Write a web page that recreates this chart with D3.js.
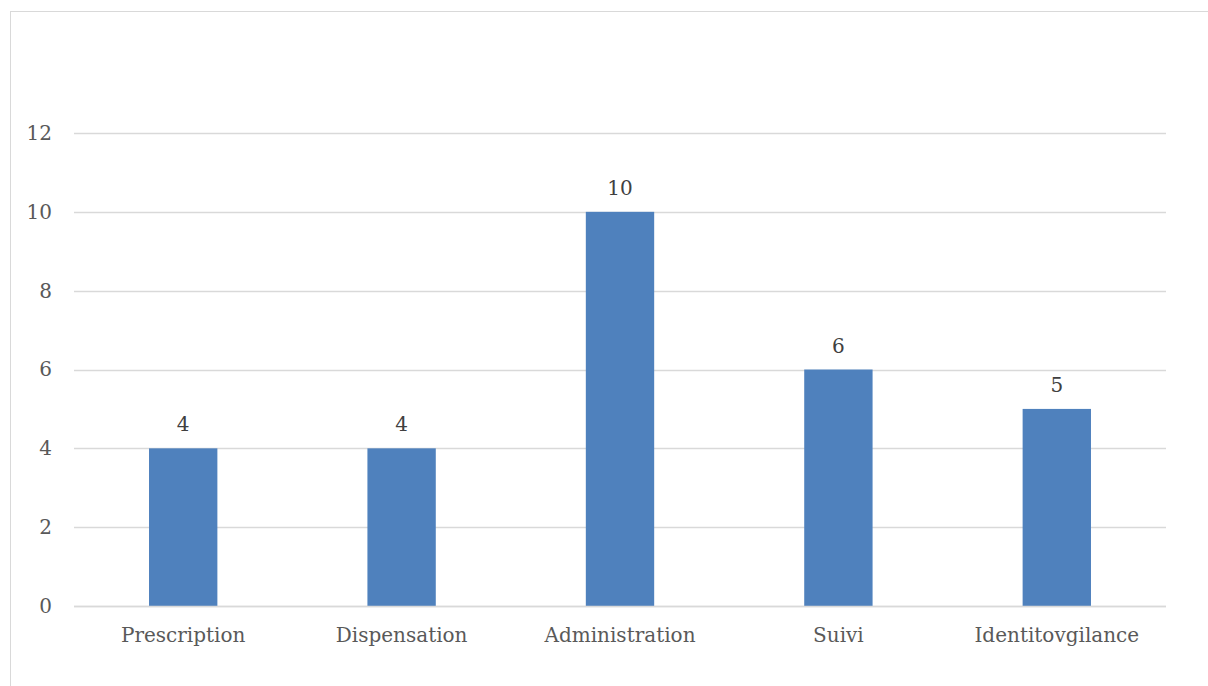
<!DOCTYPE html>
<html><head><meta charset="utf-8">
<script src="https://cdn.jsdelivr.net/npm/d3@7"></script>
<style>body{margin:0;background:#fff}svg{display:block}</style>
</head><body>
<svg id="c" width="1208" height="686"></svg>
<script>
const categories = ["Prescription","Dispensation","Administration","Suivi","Identitovgilance"];
const values = [4,4,10,6,5];
const yTicks = [0,2,4,6,8,10,12];

const svg = d3.select("#c");
const W = 1208, H = 686;
const m = {left:74, right:1166, top:133, bottom:606};
const font = "'DejaVu Serif', 'Liberation Serif', serif";
const fs = 20;

svg.append("rect").attr("x",10.5).attr("y",11.5).attr("width",W+20).attr("height",H+20)
  .attr("fill","#fff").attr("stroke","#d9d9d9").attr("stroke-width",1);

const x = d3.scaleBand().domain(categories).range([m.left,m.right]).paddingInner(0.687).paddingOuter(0.3435);
const y = d3.scaleLinear().domain([0,12]).range([m.bottom,m.top]);

const grid = svg.append("g");
grid.selectAll("line").data(yTicks).join("line")
  .attr("x1",m.left).attr("x2",m.right)
  .attr("y1",d=>Math.round(y(d))+0.5).attr("y2",d=>Math.round(y(d))+0.5)
  .attr("stroke","#d9d9d9").attr("stroke-width",1.3);

const yAxis = d3.axisLeft(y).tickValues(yTicks).tickSize(0).tickPadding(0);
const ya = svg.append("g").attr("transform",`translate(52,0)`).call(yAxis);
ya.select(".domain").remove();
ya.selectAll("text").attr("font-family",font).attr("font-size",fs).attr("fill","#595959");

const xAxis = d3.axisBottom(x).tickSize(0).tickPadding(0);
const xa = svg.append("g").attr("transform",`translate(0,${m.bottom})`).call(xAxis);
xa.select(".domain").remove();
xa.selectAll("text").attr("font-family",font).attr("font-size",fs).attr("fill","#595959")
  .attr("dy",null).attr("y",36);

svg.append("g").selectAll("rect").data(values).join("rect")
  .attr("x",(d,i)=>x(categories[i])).attr("width",x.bandwidth())
  .attr("y",d=>y(d)).attr("height",d=>y(0)-y(d))
  .attr("fill","#4f81bd");

svg.append("line").attr("x1",m.left).attr("x2",m.right)
  .attr("y1",Math.round(y(0))+0.5).attr("y2",Math.round(y(0))+0.5)
  .attr("stroke","#d9d9d9").attr("stroke-width",1.3);

svg.append("g").selectAll("text").data(values).join("text")
  .attr("x",(d,i)=>x(categories[i])+x.bandwidth()/2)
  .attr("y",d=>y(d)-17)
  .attr("text-anchor","middle")
  .attr("font-family",font).attr("font-size",fs).attr("fill","#404040")
  .text(d=>d);
</script>
</body></html>
